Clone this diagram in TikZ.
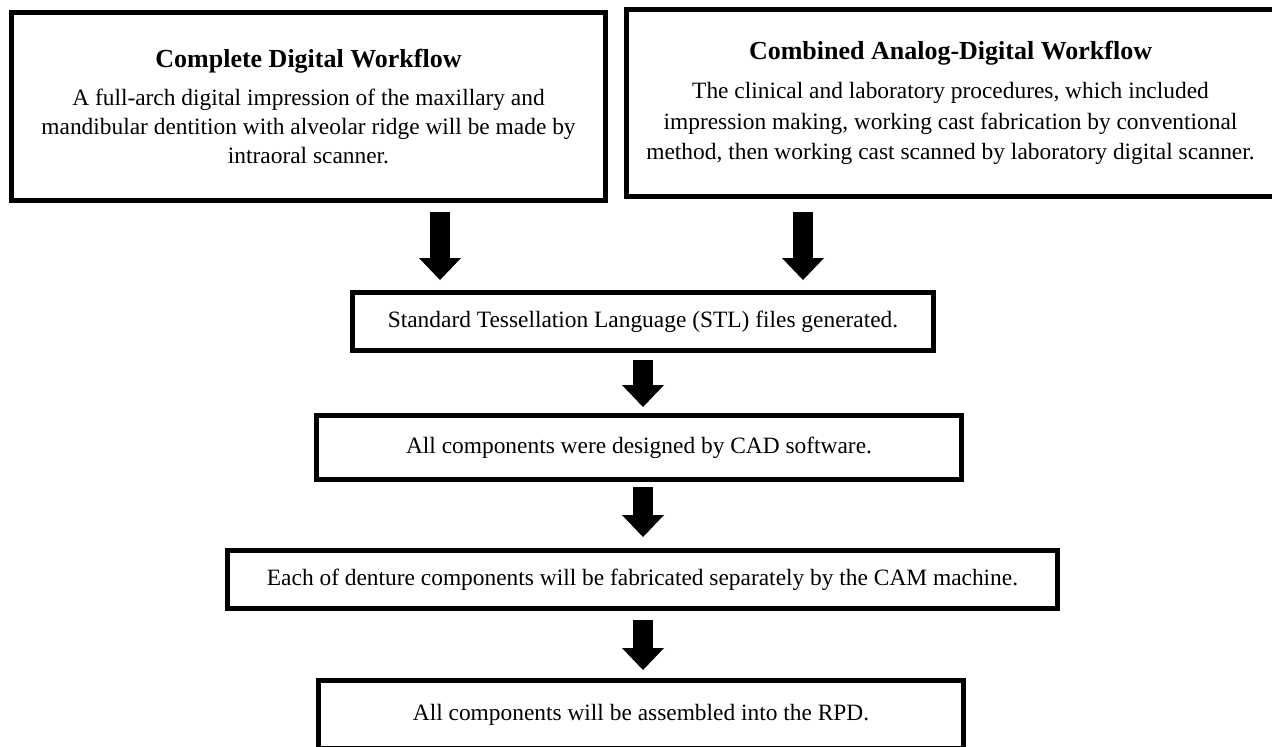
\documentclass[tikz,border=0pt]{standalone}
\usepackage{fontspec}
\setmainfont{Liberation Serif}
\usetikzlibrary{arrows.meta}
\newcommand{\wfhead}[1]{{\fontsize{13}{14.5}\selectfont\bfseries #1}}
\tikzset{
    wfbox/.style={draw=black, line width=2.5pt, align=center, inner sep=0pt, font=\fontsize{11.7}{14.5}\selectfont},
    bigarrow/.style={draw=black, line width=10pt, -{Triangle[width=21pt, length=11pt, line width=0pt]}}
}
\begin{document}
\begin{tikzpicture}[x=0.5pt, y=-0.5pt]
    \useasboundingbox (0,0) rectangle (1272,746);
    % two workflows
    \node[wfbox, minimum width=297pt, minimum height=94pt] (cdw) at (308.5,106.5)
        {\wfhead{Complete Digital Workflow}\\[4.5pt]
         A full-arch digital impression of the maxillary and\\
         mandibular dentition with alveolar ridge will be made by\\
         intraoral scanner.};
    \node[wfbox, minimum width=324pt, minimum height=93.5pt] (cadw) at (950.5,103)
        {\wfhead{Combined Analog-Digital Workflow}\\[5pt]
         The clinical and laboratory procedures, which included\\[0.6pt]
         impression making, working cast fabrication by conventional\\[0.6pt]
         method, then working cast scanned by laboratory digital scanner.};
    % common steps
    \node[wfbox, minimum width=290.5pt, minimum height=29pt] (stl) at (643,321.5)
        {Standard Tessellation Language (STL) files generated.};
    \node[wfbox, minimum width=322.5pt, minimum height=32pt] (cad) at (639,447.5)
        {All components were designed by CAD software.};
    \node[wfbox, minimum width=415pt, minimum height=29pt] (cam) at (642.5,579.5)
        {Each of denture components will be fabricated separately by the CAM machine.};
    \node[wfbox, minimum width=322.5pt, minimum height=34pt] (rpd) at (641,714.5)
        {All components will be assembled into the RPD.};
    \coordinate (xl) at (440,0);
    \coordinate (xr) at (803,0);
    \coordinate (xm) at (643,0);
    \draw[bigarrow, shorten <=4.5pt, shorten >=5pt] (cdw.south -| xl) -- (stl.north -| xl);
    \draw[bigarrow, shorten <=6.5pt, shorten >=5pt] (cadw.south -| xr) -- (stl.north -| xr);
    \draw[bigarrow, shorten <=3.5pt, shorten >=3pt] (stl.south -| xm) -- (cad.north -| xm);
    \draw[bigarrow, shorten <=2.5pt, shorten >=5.5pt] (cad.south -| xm) -- (cam.north -| xm);
    \draw[bigarrow, shorten <=4.5pt, shorten >=4pt] (cam.south -| xm) -- (rpd.north -| xm);
\end{tikzpicture}
\end{document}
